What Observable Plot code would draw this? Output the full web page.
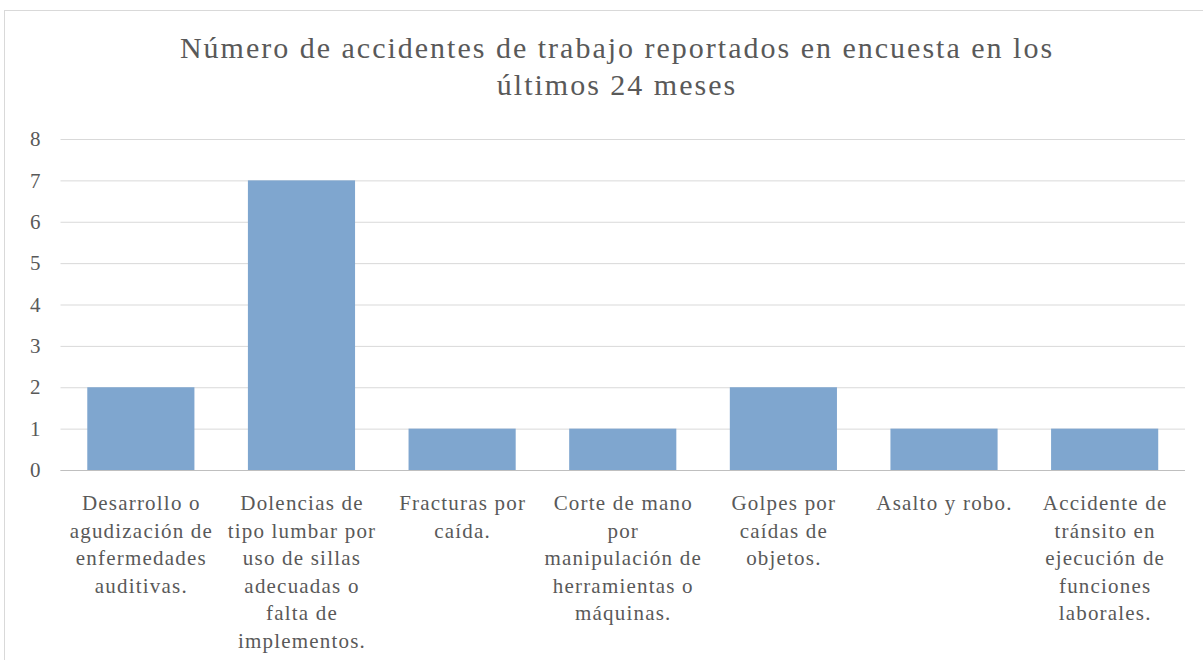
<!DOCTYPE html>
<html><head><meta charset="utf-8">
<script src="https://cdn.jsdelivr.net/npm/d3@7"></script>
<script src="https://cdn.jsdelivr.net/npm/@observablehq/plot@0.6"></script>
<style>
body{margin:0;background:#fff;width:1203px;height:660px;overflow:hidden;position:relative;color:#595959}
#frame{position:absolute;left:4px;top:10px;width:1250px;height:700px;border:1px solid #d9d9d9;box-sizing:border-box;pointer-events:none}
#title{position:relative;height:110px;width:1234px;text-align:center;font-family:'Liberation Serif',serif;font-size:30px;line-height:36.7px;padding-top:30px;box-sizing:border-box;letter-spacing:2px;color:#595959}
#chart svg, #chart svg text{font-family:'Liberation Serif',serif}
#chart svg g[aria-label="x-axis tick label"] text{letter-spacing:1.2px}
</style></head>
<body>
<div id="frame"></div>
<div id="title" style="font-family:'Liberation Serif',serif"></div>
<div id="chart"></div>
<script>
const titleLines = ["Número de accidentes de trabajo reportados en encuesta en los", "últimos 24 meses"];
const categories = [
  "Desarrollo o\nagudización de\nenfermedades\nauditivas.",
  "Dolencias de\ntipo lumbar por\nuso de sillas\nadecuadas o\nfalta de\nimplementos.",
  "Fracturas por\ncaída.",
  "Corte de mano\npor\nmanipulación de\nherramientas o\nmáquinas.",
  "Golpes por\ncaídas de\nobjetos.",
  "Asalto y robo.",
  "Accidente de\ntránsito en\nejecución de\nfunciones\nlaborales."
];
const values = [2, 7, 1, 1, 2, 1, 1];
const yTicks = [0, 1, 2, 3, 4, 5, 6, 7, 8];

const titleEl = document.getElementById("title");
titleLines.forEach((t, i) => {
  if (i) titleEl.appendChild(document.createElement("br"));
  titleEl.appendChild(document.createTextNode(t));
});

const data = categories.map((c, i) => ({cat: c, value: values[i]}));

const chart = Plot.plot({
  width: 1203,
  height: 550,
  marginLeft: 60.5,
  marginRight: 18,
  marginTop: 29,
  marginBottom: 190,
  style: {fontFamily: "Liberation Serif", fontSize: "21px", color: "#595959", background: "transparent", overflow: "visible"},
  x: {domain: categories, paddingInner: 0.333, paddingOuter: 0.1667, round: false, label: null},
  y: {domain: [0, 8], label: null},
  marks: [
    Plot.gridY(yTicks, {stroke: "#d9d9d9", strokeOpacity: 1}),
    Plot.barY(data, {x: "cat", y: "value", fill: "#7FA6CF"}),
    Plot.ruleY([0], {stroke: "#bfbfbf", strokeWidth: 1}),
    Plot.axisY({ticks: yTicks, tickSize: 0, tickPadding: 20.5, label: null, fontSize: 21, fill: "#595959"}),
    Plot.axisX({tickSize: 0, tickPadding: 20, label: null, lineHeight: 1.314, fontSize: 21, fill: "#595959"})
  ]
});
document.getElementById("chart").appendChild(chart);
</script>
</body></html>
